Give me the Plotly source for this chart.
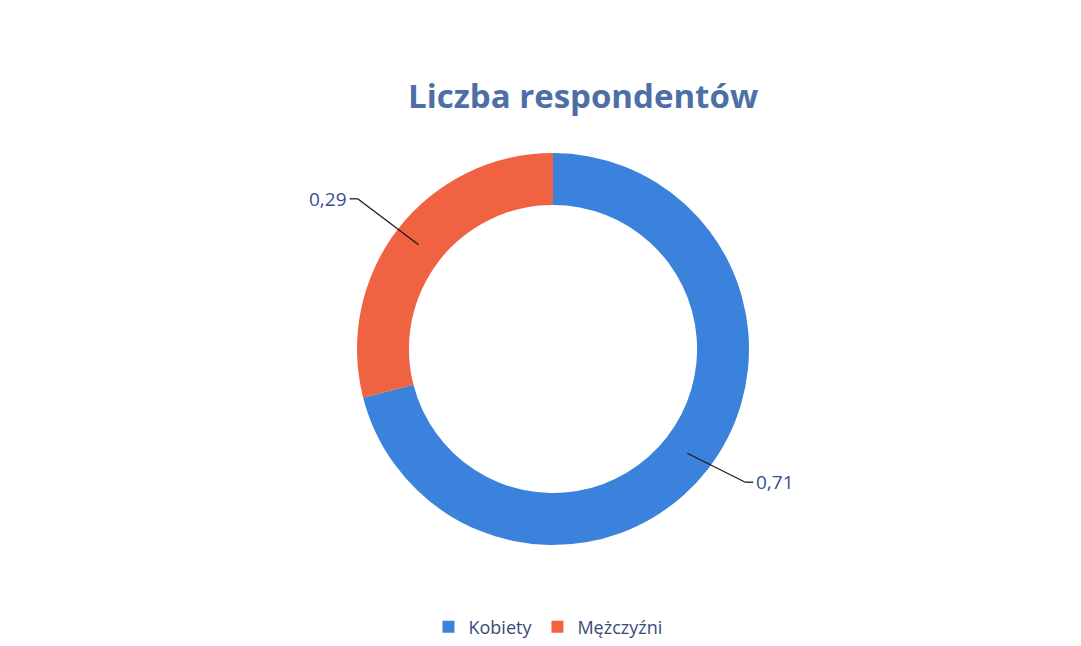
import math
import plotly.graph_objects as go

labels = ["Kobiety", "Mężczyźni"]
values = [0.71, 0.29]
value_text = ["0,71", "0,29"]
colors = ["#3A82DB", "#EF6242"]
title = "Liczba respondentów"

OFF = 8  # page body margin
W, H = 1081 - OFF, 646 - OFF
cx, cy, R = 553 - OFF, 349 - OFF, 196
hole = 0.735
FONT = "Open Sans, Lato, sans-serif"

fig = go.Figure()
fig.add_trace(go.Pie(
    labels=labels, values=values, hole=hole, sort=False,
    direction="clockwise", rotation=0,
    marker=dict(colors=colors, line=dict(width=0)),
    textinfo="none", hoverinfo="label+value",
    domain=dict(x=[(cx - R) / W, (cx + R) / W], y=[(H - cy - R) / H, (H - cy + R) / H]),
))

def px2paper(x, y):
    return x / W, (H - y) / H

# leader lines + labels computed from slice midpoints
offsets = [(58, 29), (-61, -46)]
total = sum(values)
cum = 0.0
shapes, annotations = [], []
r_mid = R * (1 + hole) / 2
for i, v in enumerate(values):
    mid = (cum + v / 2) / total
    cum += v
    ang = 2 * math.pi * mid
    x0 = cx + r_mid * math.sin(ang)
    y0 = cy - r_mid * math.cos(ang)
    x1 = x0 + offsets[i][0]
    y1 = y0 + offsets[i][1]
    side = 1 if math.sin(ang) > 0 else -1
    x2 = x1 + side * 8
    for (a, b), (c, d) in [((x0, y0), (x1, y1)), ((x1, y1), (x2, y1))]:
        pa, pb = px2paper(a, b)
        pc, pd = px2paper(c, d)
        shapes.append(dict(type="line", xref="paper", yref="paper", x0=pa, y0=pb, x1=pc, y1=pd,
                           line=dict(color="#1a1a1a", width=1.3)))
    tx, ty = px2paper(x2 + side * 1, y1)
    annotations.append(dict(x=tx, y=ty, xref="paper", yref="paper", text=value_text[i],
                            showarrow=False, xanchor="left" if side > 0 else "right", yanchor="middle",
                            font=dict(family=FONT, size=19, color="#34508C")))

tx, ty = px2paper(583 - OFF, 95 - OFF)
annotations.append(dict(x=tx, y=ty, xref="paper", yref="paper", text="<b>" + title + "</b>",
                        showarrow=False, xanchor="center", yanchor="middle",
                        font=dict(family=FONT, size=33, color="#4E6FA6")))

lx, ly = px2paper(548 - OFF, 627 - OFF)
fig.update_layout(
    width=W, height=H, margin=dict(l=0, r=0, t=0, b=0),
    paper_bgcolor="white", plot_bgcolor="white",
    shapes=shapes, annotations=annotations,
    showlegend=True,
    legend=dict(orientation="h", x=lx, xanchor="center", y=ly, yanchor="middle",
                font=dict(family=FONT, size=18, color="#3A4A7A"),
                itemwidth=30, traceorder="normal"),
)

fig.write_html("out.html")
